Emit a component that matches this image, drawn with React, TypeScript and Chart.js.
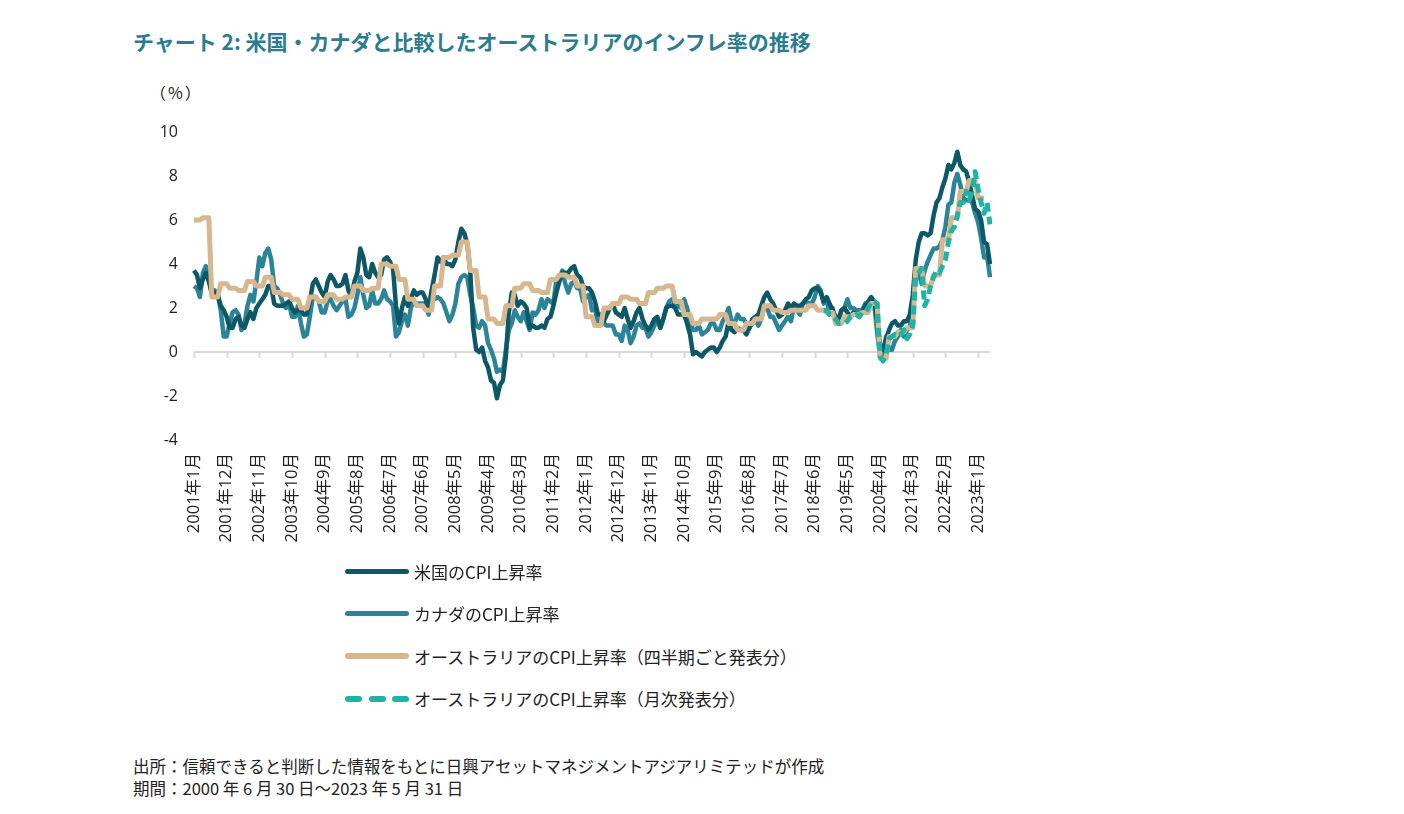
import React, { useEffect, useRef } from 'react';
import { Chart, registerables } from 'chart.js';

Chart.register(...registerables);

// ---- categories: monthly, 2001年1月 .. 2023年5月 ----
const START_YEAR = 2001;
const MONTH_COUNT = 269;
const CATEGORIES: string[] = [];
for (let i = 0; i < MONTH_COUNT; i++) {
  CATEGORIES.push(`${START_YEAR + Math.floor(i / 12)}年${(i % 12) + 1}月`);
}

const TICK_LABELS = [
  '2001年1月', '2001年12月', '2002年11月', '2003年10月', '2004年9月', '2005年8月',
  '2006年7月', '2007年6月', '2008年5月', '2009年4月', '2010年3月', '2011年2月',
  '2012年1月', '2012年12月', '2013年11月', '2014年10月', '2015年9月', '2016年8月',
  '2017年7月', '2018年6月', '2019年5月', '2020年4月', '2021年3月', '2022年2月', '2023年1月',
];

const Y_TICKS = [-4, -2, 0, 2, 4, 6, 8, 10];

// ---- series ----
const US_CPI = [
  3.7, 3.5, 2.9, 3.3, 3.6, 3.2, 2.7, 2.7, 2.6, 2.1, 1.9, 1.6,
  1.1, 1.1, 1.5, 1.6, 1.2, 1.1, 1.5, 1.8, 1.5, 2.0, 2.2, 2.4,
  2.6, 3.0, 3.0, 2.2, 2.1, 2.1, 2.1, 2.2, 2.3, 2.0, 1.8, 1.9,
  1.9, 1.7, 1.7, 2.3, 3.1, 3.3, 3.0, 2.7, 2.5, 3.2, 3.5, 3.3,
  3.0, 3.0, 3.1, 3.5, 2.8, 2.5, 3.2, 3.6, 4.7, 4.3, 3.5, 3.4,
  4.0, 3.6, 3.4, 3.5, 4.2, 4.3, 4.1, 3.8, 2.1, 1.3, 2.0, 2.5,
  2.1, 2.4, 2.8, 2.6, 2.7, 2.7, 2.4, 2.0, 2.8, 3.5, 4.3, 4.1,
  4.3, 4.0, 4.0, 3.9, 4.2, 5.0, 5.6, 5.4, 4.9, 3.7, 1.1, 0.1,
  0.0, 0.2, -0.4, -0.7, -1.3, -1.4, -2.1, -1.5, -1.3, -0.2, 1.8, 2.7,
  2.6, 2.1, 2.3, 2.2, 2.0, 1.1, 1.2, 1.1, 1.1, 1.2, 1.1, 1.5,
  1.6, 2.1, 2.7, 3.2, 3.6, 3.6, 3.6, 3.8, 3.9, 3.5, 3.4, 3.0,
  2.9, 2.9, 2.7, 2.3, 1.7, 1.7, 1.4, 1.7, 2.0, 2.2, 1.8, 1.7,
  1.6, 2.0, 1.5, 1.1, 1.4, 1.8, 2.0, 1.5, 1.2, 1.0, 1.2, 1.5,
  1.6, 1.1, 1.5, 2.0, 2.1, 2.1, 2.0, 1.7, 1.7, 1.7, 1.3, 0.8,
  -0.1, 0.0, -0.1, -0.2, 0.0, 0.1, 0.2, 0.2, 0.0, 0.2, 0.5, 0.7,
  1.4, 1.0, 0.9, 1.1, 1.0, 1.0, 0.8, 1.1, 1.5, 1.6, 1.7, 2.1,
  2.5, 2.7, 2.4, 2.2, 1.9, 1.6, 1.7, 1.9, 2.2, 2.0, 2.2, 2.1,
  2.1, 2.2, 2.4, 2.5, 2.8, 2.9, 2.9, 2.7, 2.3, 2.5, 2.2, 1.9,
  1.6, 1.5, 1.9, 2.0, 1.8, 1.6, 1.8, 1.7, 1.7, 1.8, 2.1, 2.3,
  2.5, 2.3, 1.5, 0.3, 0.1, 0.6, 1.0, 1.3, 1.4, 1.2, 1.2, 1.4,
  1.4, 1.7, 2.6, 4.2, 5.0, 5.4, 5.4, 5.3, 5.4, 6.2, 6.8, 7.0,
  7.5, 7.9, 8.5, 8.3, 8.6, 9.1, 8.5, 8.3, 8.2, 7.7, 7.1, 6.5,
  6.4, 6.0, 5.0, 4.9, 4.0,
];

const CANADA_CPI = [
  3.0, 2.9, 2.5, 3.6, 3.9, 3.3, 2.6, 2.8, 2.6, 1.9, 0.7, 0.7,
  1.3, 1.8, 1.9, 1.7, 1.0, 1.3, 2.1, 2.6, 2.3, 3.2, 4.3, 3.9,
  4.5, 4.7, 4.2, 3.0, 2.9, 2.6, 2.2, 2.0, 2.2, 1.6, 1.6, 2.1,
  1.3, 0.7, 0.8, 1.6, 2.5, 2.5, 2.3, 1.8, 1.8, 2.3, 2.4, 2.1,
  1.9, 2.1, 2.3, 2.4, 1.6, 1.7, 2.0, 2.6, 3.4, 2.6, 2.0, 2.1,
  2.8, 2.2, 2.2, 2.4, 2.8, 2.4, 2.3, 2.1, 0.7, 0.9, 1.4, 1.7,
  1.2, 2.0, 2.3, 2.2, 2.2, 2.2, 2.2, 1.7, 2.5, 2.4, 2.5, 2.4,
  2.2, 1.8, 1.4, 1.7, 2.2, 3.1, 3.4, 3.5, 3.4, 2.6, 2.0, 1.2,
  1.1, 1.4, 1.2, 0.4, 0.1, -0.3, -0.9, -0.8, -0.9, 0.1, 1.0, 1.3,
  1.9, 1.6, 1.4, 1.8, 1.4, 1.0, 1.8, 1.7, 1.9, 2.4, 2.0, 2.4,
  2.3, 2.2, 3.3, 3.3, 3.7, 3.1, 2.7, 3.1, 3.2, 2.9, 2.9, 2.3,
  2.5, 2.6, 1.9, 2.0, 1.2, 1.5, 1.3, 1.2, 1.2, 1.2, 0.8, 0.8,
  0.5, 1.2, 1.0, 0.4, 0.7, 1.2, 1.3, 1.1, 1.1, 0.7, 0.9, 1.2,
  1.5, 1.1, 1.5, 2.0, 2.3, 2.4, 2.1, 2.1, 2.0, 2.4, 2.0, 1.5,
  1.0, 1.0, 1.2, 0.8, 0.9, 1.0, 1.3, 1.3, 1.0, 1.0, 1.4, 1.6,
  2.0, 1.4, 1.3, 1.7, 1.5, 1.5, 1.3, 1.1, 1.3, 1.5, 1.2, 1.5,
  2.1, 2.0, 1.6, 1.6, 1.3, 1.0, 1.2, 1.4, 1.6, 1.4, 2.1, 1.9,
  1.7, 2.2, 2.3, 2.2, 2.2, 2.5, 3.0, 2.8, 2.2, 2.4, 1.7, 2.0,
  1.4, 1.5, 1.9, 2.0, 2.4, 2.0, 2.0, 1.9, 1.9, 1.9, 2.2, 2.2,
  2.4, 2.2, 0.9, -0.2, -0.4, 0.7, 0.1, 0.1, 0.5, 0.7, 1.0, 0.7,
  1.0, 1.1, 2.2, 3.4, 3.6, 3.1, 3.7, 4.1, 4.4, 4.7, 4.7, 4.8,
  5.1, 5.7, 6.7, 6.8, 7.7, 8.1, 7.6, 7.0, 6.9, 6.9, 6.8, 6.3,
  5.9, 5.2, 4.3, 4.4, 3.4,
];

// Australia, quarterly release (2001 Q1 .. 2023 Q1), each value covers the 3 months of its quarter
const AU_QUARTERLY = [
  6.0, 6.1, 2.5, 3.1,
  2.9, 2.8, 3.2, 3.0,
  3.4, 2.7, 2.6, 2.4,
  2.0, 2.5, 2.3, 2.6,
  2.4, 2.5, 3.0, 2.8,
  2.9, 4.0, 3.9, 3.3,
  2.4, 2.1, 1.9, 3.0,
  4.3, 4.4, 5.0, 3.7,
  2.5, 1.5, 1.3, 2.1,
  2.9, 3.1, 2.8, 2.7,
  3.3, 3.5, 3.4, 3.0,
  1.6, 1.2, 2.0, 2.2,
  2.5, 2.4, 2.2, 2.7,
  2.9, 3.0, 2.3, 1.7,
  1.3, 1.5, 1.5, 1.7,
  1.3, 1.0, 1.3, 1.5,
  2.1, 1.9, 1.8, 1.9,
  1.9, 2.1, 1.9, 1.8,
  1.3, 1.6, 1.7, 1.8,
  2.2, -0.3, 0.7, 0.9,
  1.1, 3.8, 3.0, 3.5,
  5.1, 6.1, 7.3, 7.8,
  7.0,
];

// Australia, monthly indicator (2018年9月 .. 2023年5月)
const AU_MONTHLY_START = '2018年9月';
const AU_MONTHLY = [
  1.9, 1.9, 1.7, 1.6,
  1.5, 1.3, 1.3, 1.3, 1.4, 1.6, 1.6, 1.7, 1.6, 1.8, 1.8, 2.0,
  2.3, 2.3, 2.2, -0.2, -0.4, -0.1, 0.6, 0.7, 0.8, 0.7, 0.8, 1.0,
  0.6, 0.8, 1.2, 3.4, 3.6, 3.8, 2.1, 2.4, 3.0, 3.4, 3.7, 3.6,
  3.9, 4.2, 5.0, 5.5, 5.7, 6.2, 6.8, 6.8, 7.3, 6.9, 7.3, 8.2,
  7.4, 6.8, 6.3, 6.8, 5.8,
];

const COLORS = {
  us: '#0c5866',
  canada: '#2b8498',
  auQ: '#d6b78e',
  auM: '#1fb3a7',
  title: '#2a7d8f',
  text: '#333333',
};

const LEGEND_ITEMS = [
  { label: '米国のCPI上昇率', color: COLORS.us, dashed: false, width: 5 },
  { label: 'カナダのCPI上昇率', color: COLORS.canada, dashed: false, width: 5 },
  { label: 'オーストラリアのCPI上昇率（四半期ごと発表分）', color: COLORS.auQ, dashed: false, width: 6 },
  { label: 'オーストラリアのCPI上昇率（月次発表分）', color: COLORS.auM, dashed: true, width: 6 },
];

function expandQuarterly(q: number[]): (number | null)[] {
  const out: (number | null)[] = [];
  q.forEach((v) => { out.push(v, v, v); });
  while (out.length < MONTH_COUNT) out.push(null);
  return out.slice(0, MONTH_COUNT);
}

function placeMonthly(start: string, vals: number[]): (number | null)[] {
  const idx = CATEGORIES.indexOf(start);
  const out: (number | null)[] = new Array(MONTH_COUNT).fill(null);
  vals.forEach((v, i) => { out[idx + i] = v; });
  return out;
}

const zeroLinePlugin = {
  id: 'zeroLine',
  beforeDatasetsDraw(chart: any) {
    const { ctx, chartArea, scales } = chart;
    const x = scales.x;
    const y = scales.y;
    const y0 = y.getPixelForValue(0);
    ctx.save();
    ctx.strokeStyle = '#d9d9d9';
    ctx.lineWidth = 2;
    ctx.beginPath();
    ctx.moveTo(chartArea.left, y0);
    ctx.lineTo(chartArea.right, y0);
    x.ticks.forEach((t: any) => {
      const px = Math.round(x.getPixelForValue(t.value)) + 0.5;
      ctx.moveTo(px, y0);
      ctx.lineTo(px, y0 + 6);
    });
    ctx.stroke();
    ctx.restore();
  },
};

const FONT = "'Open Sans', 'Noto Sans CJK JP', sans-serif";
const JP_FONT = "'Noto Sans CJK JP', 'Noto Sans', sans-serif";

function CpiChart() {
  const ref = useRef<HTMLCanvasElement>(null);
  useEffect(() => {
    if (!ref.current) return;
    const chart = new Chart(ref.current, {
      type: 'line',
      data: {
        labels: CATEGORIES,
        datasets: [
          {
            label: LEGEND_ITEMS[0].label,
            data: US_CPI,
            borderColor: COLORS.us,
            borderWidth: 4.5,
            pointRadius: 0,
            tension: 0,
            borderJoinStyle: 'round',
            order: 2,
          },
          {
            label: LEGEND_ITEMS[1].label,
            data: CANADA_CPI,
            borderColor: COLORS.canada,
            borderWidth: 4.5,
            pointRadius: 0,
            tension: 0,
            borderJoinStyle: 'round',
            order: 3,
          },
          {
            label: LEGEND_ITEMS[2].label,
            data: expandQuarterly(AU_QUARTERLY),
            borderColor: COLORS.auQ,
            borderWidth: 5,
            pointRadius: 0,
            tension: 0,
            borderJoinStyle: 'round',
            order: 1,
          },
          {
            label: LEGEND_ITEMS[3].label,
            data: placeMonthly(AU_MONTHLY_START, AU_MONTHLY),
            borderColor: COLORS.auM,
            borderWidth: 5,
            borderDash: [9, 5],
            borderJoinStyle: 'round',
            pointRadius: 0,
            tension: 0,
            order: 0,
          },
        ],
      },
      options: {
        responsive: false,
        animation: false,
        layout: { padding: { top: 32, right: 30, bottom: 0, left: 0 } },
        plugins: {
          legend: { display: false },
          tooltip: { enabled: false },
        },
        scales: {
          x: {
            type: 'category',
            offset: false,
            grid: { display: false, drawTicks: false },
            border: { display: false },
            afterBuildTicks: (axis: any) => {
              axis.ticks = axis.ticks.filter((t: any) => TICK_LABELS.includes(CATEGORIES[t.value]));
            },
            afterFit: (scale: any) => { scale.height = 120; },
            ticks: {
              autoSkip: false,
              maxRotation: 90,
              minRotation: 90,
              padding: 13,
              color: '#222',
              font: { family: FONT, size: 16.5 },
            },
          },
          y: {
            min: -4,
            max: 10,
            grid: { display: false, drawTicks: false },
            border: { display: false },
            afterBuildTicks: (axis: any) => {
              axis.ticks = Y_TICKS.map((v) => ({ value: v }));
            },
            afterFit: (scale: any) => { scale.width = 94; },
            ticks: {
              padding: 16,
              color: '#222',
              font: { family: FONT, size: 16 },
            },
          },
        },
      },
      plugins: [zeroLinePlugin],
    });
    return () => chart.destroy();
  }, []);
  return <canvas ref={ref} width={920} height={460} style={{ position: 'absolute', left: 100, top: 100 }} />;
}

export default function App() {
  return (
    <div style={{ position: 'absolute', left: 0, top: 0, width: 1404, height: 814, overflow: 'hidden', background: '#fff' }}>
      <div style={{ position: 'absolute', left: 133, top: 29, fontFamily: JP_FONT, fontWeight: 700, fontSize: 21, lineHeight: '24px', color: COLORS.title, whiteSpace: 'nowrap' }}>
        チャート 2: 米国・カナダと比較したオーストラリアのインフレ率の推移
      </div>
      <div style={{ position: 'absolute', left: 150, top: 80, fontFamily: JP_FONT, fontSize: 16, lineHeight: '24px', color: '#222', whiteSpace: 'nowrap', letterSpacing: 2 }}>
        （%）
      </div>
      <CpiChart />
      {LEGEND_ITEMS.map((it, i) => (
        <div key={i} style={{ position: 'absolute', left: 345, top: 559 + i * 42.5, height: 24, display: 'flex', alignItems: 'center', whiteSpace: 'nowrap' }}>
          {it.dashed ? (
            <div style={{ width: 64, display: 'flex', justifyContent: 'space-between' }}>
              {[0, 1, 2].map((k) => (
                <div key={k} style={{ width: 17, height: it.width, borderRadius: 3, background: it.color }} />
              ))}
            </div>
          ) : (
            <div style={{ width: 64, height: it.width, borderRadius: 3, background: it.color }} />
          )}
          <span style={{ marginLeft: 5, fontFamily: JP_FONT, fontSize: 17, color: '#222' }}>{it.label}</span>
        </div>
      ))}
      <div style={{ position: 'absolute', left: 133, top: 755, fontFamily: JP_FONT, fontSize: 16.5, lineHeight: '22px', color: '#222', whiteSpace: 'nowrap' }}>
        <div>出所：信頼できると判断した情報をもとに日興アセットマネジメントアジアリミテッドが作成</div>
        <div>期間：2000 年 6 月 30 日～2023 年 5 月 31 日</div>
      </div>
    </div>
  );
}
